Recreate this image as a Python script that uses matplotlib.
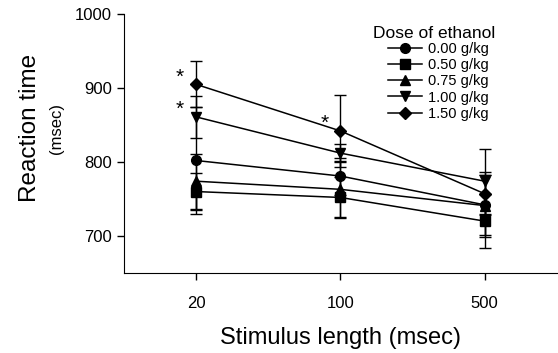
import numpy as np
import matplotlib.pyplot as plt
from matplotlib.lines import Line2D

plt.rcParams['font.family'] = ['Liberation Sans', 'DejaVu Sans']

# stimulus lengths (categorical x)
stim = ['20', '100', '500']
doses = ['0.00 g/kg', '0.50 g/kg', '0.75 g/kg', '1.00 g/kg', '1.50 g/kg']
markers = ['o', 's', '^', 'v', 'D']

# mean reaction time (msec) per dose
rt_000 = [802, 781, 742]
rt_050 = [760, 752, 720]
rt_075 = [774, 763, 741]
rt_100 = [861, 812, 774]
rt_150 = [905, 842, 757]

# error bars
err_000 = [72, 25, 41]
err_050 = [25, 28, 37]
err_075 = [37, 38, 42]
err_100 = [28, 12, 44]
err_150 = [31, 49, 29]

means = [rt_000, rt_050, rt_075, rt_100, rt_150]
errs = [err_000, err_050, err_075, err_100, err_150]

# significance stars: (x index, value)
stars = [(0, 905), (0, 861), (1, 842)]

fig = plt.figure(figsize=(5.58, 3.53), dpi=100)
ax = fig.add_axes([0.222, 0.227, 0.776, 0.733])

x = np.arange(len(stim))
handles = []
for m, e, mk, lab in zip(means, errs, markers, doses):
    ms = 6 if mk == 'D' else 7
    ax.errorbar(x, m, yerr=e, color='black', marker=mk, markersize=ms,
                linewidth=1.1, elinewidth=1.0, capsize=4, capthick=1.0)
    handles.append(Line2D([], [], color='black', marker=mk, markersize=ms,
                          linewidth=1.1, label=lab))

for xi, v in stars:
    ax.text(xi - 0.11, v + 10, '*', fontsize=15, ha='center', va='center')

ax.set_xlim(-0.5, 2.5)
ax.set_ylim(650, 1000)
ax.set_xticks(x)
ax.set_xticklabels(stim)
ax.set_yticks([700, 800, 900, 1000])
ax.tick_params(direction='out', labelsize=12, length=5, width=1)
ax.tick_params(axis='x', pad=12)
ax.spines['top'].set_visible(False)
ax.spines['right'].set_visible(False)

ax.set_xlabel('Stimulus length (msec)', fontsize=17, labelpad=11)
fig.text(0.054, 0.637, 'Reaction time', rotation=90, fontsize=17.5,
         ha='center', va='center')
fig.text(0.102, 0.637, '(msec)', rotation=90, fontsize=12,
         ha='center', va='center')

fig.text(373 / 558, 1 - 34 / 353, 'Dose of ethanol', fontsize=12.5,
         ha='left', va='center')
ax.legend(handles=handles, frameon=False, fontsize=10.5,
          loc='upper left', bbox_to_anchor=(388 / 558, 1 - 42 / 353),
          bbox_transform=fig.transFigure,
          handlelength=2.3, handletextpad=0.45, labelspacing=0.15,
          borderpad=0, borderaxespad=0)

fig.savefig('out.png', dpi=100)
